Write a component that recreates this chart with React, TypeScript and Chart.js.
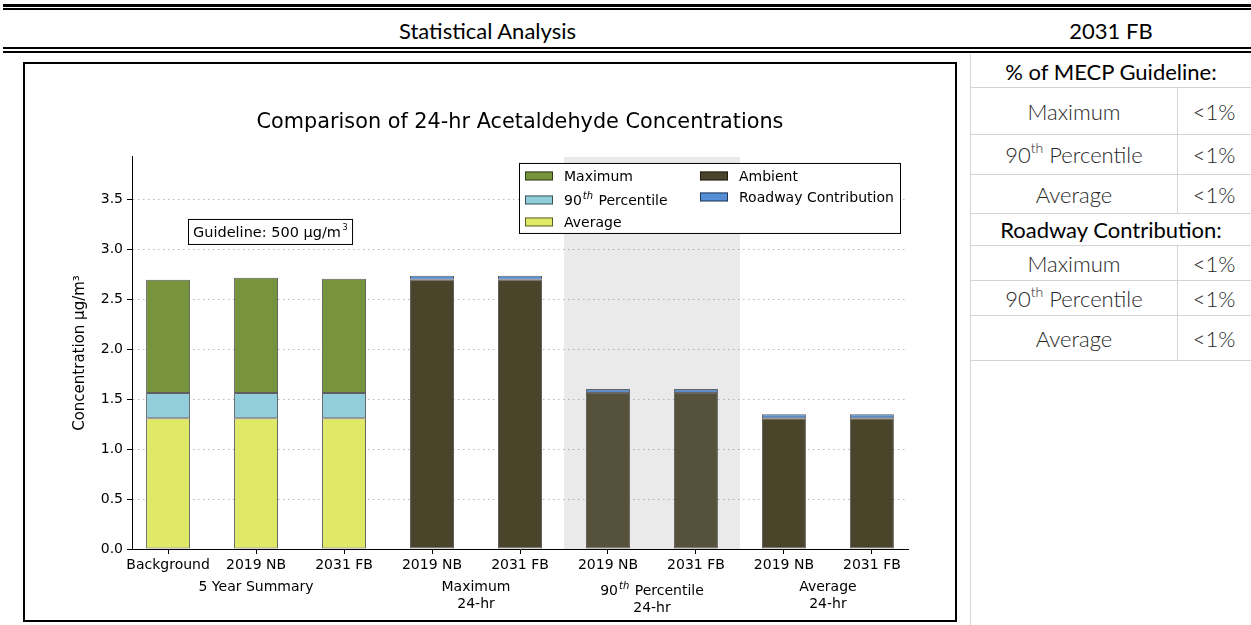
import React, { useEffect, useRef } from 'react';
import { Chart, registerables } from 'chart.js';

Chart.register(...registerables);

// ---------- data ----------
const categories = ['Background', '2019 NB', '2031 FB', '2019 NB', '2031 FB', '2019 NB', '2031 FB', '2019 NB', '2031 FB'];
const summaryIdx = [0, 1, 2];
const summaryAverage = [1.31, 1.31, 1.31];
const summary90th = [1.565, 1.565, 1.565];
const summaryMaximum = [2.70, 2.72, 2.71];
const scenarioIdx = [3, 4, 5, 6, 7, 8];
const ambient = [2.70, 2.70, 1.565, 1.565, 1.31, 1.31];
const roadway = [0.04, 0.04, 0.04, 0.04, 0.04, 0.04];
const groupNames = [['5 Year Summary'], ['Maximum', '24-hr'], ['90th Percentile', '24-hr'], ['Average', '24-hr']];
const groupMembers = [[0, 1, 2], [3, 4], [5, 6], [7, 8]];
const shadedGroup = 2;
const yMax = 3.93;
const yStep = 0.5;
const chartTitle = 'Comparison of 24-hr Acetaldehyde Concentrations';
const yTitle = 'Concentration µg/m³';
const guidelineBase = 'Guideline: 500 µg/m';
const guidelineSup = '3';

const guidelineRows = [['Maximum', '<1%'], ['90th Percentile', '<1%'], ['Average', '<1%']];
const roadwayRows = [['Maximum', '<1%'], ['90th Percentile', '<1%'], ['Average', '<1%']];

const COLORS = {
  max: '#77933C',
  p90: '#92CDDC',
  avg: '#E0E966',
  ambient: '#4A452A',
  roadway: '#558ED5',
};

const legendCol1 = [
  { label: 'Maximum', color: COLORS.max },
  { label: '90th Percentile', color: COLORS.p90 },
  { label: 'Average', color: COLORS.avg },
];
const legendCol2 = [
  { label: 'Ambient', color: COLORS.ambient },
  { label: 'Roadway Contribution', color: COLORS.roadway },
];

const FONT = '"DejaVu Sans", sans-serif';

function drawOrdinalText(ctx: CanvasRenderingContext2D, text: string, x: number, y: number, align: 'left' | 'center', size: number) {
  const m = text.match(/^(\d+)(th)(.*)$/);
  ctx.textBaseline = 'alphabetic';
  if (!m) {
    ctx.font = `${size}px ${FONT}`;
    ctx.textAlign = align;
    ctx.fillText(text, x, y);
    return;
  }
  const supSize = Math.round(size * 0.7);
  ctx.font = `${size}px ${FONT}`;
  const w1 = ctx.measureText(m[1]).width;
  const w3 = ctx.measureText(m[3]).width;
  ctx.font = `italic ${supSize}px ${FONT}`;
  const w2 = ctx.measureText(m[2]).width;
  const total = w1 + w2 + w3 + 2;
  let sx = align === 'center' ? x - total / 2 : x;
  ctx.textAlign = 'left';
  ctx.font = `${size}px ${FONT}`;
  ctx.fillText(m[1], sx, y);
  sx += w1 + 1;
  ctx.font = `italic ${supSize}px ${FONT}`;
  ctx.fillText(m[2], sx, y - size * 0.42);
  sx += w2 + 1;
  ctx.font = `${size}px ${FONT}`;
  ctx.fillText(m[3], sx, y);
}

const overlayPlugin = {
  id: 'overlayPlugin',
  afterDatasetsDraw(chart: any) {
    const { ctx, chartArea, scales } = chart;
    const x = scales.x;
    const g = groupMembers[shadedGroup];
    const x0 = x.getPixelForValue(g[0] - 0.5);
    const x1 = x.getPixelForValue(g[g.length - 1] + 0.5);
    ctx.save();
    ctx.fillStyle = 'rgba(138,138,138,0.18)';
    ctx.fillRect(x0, chartArea.top, x1 - x0, chartArea.bottom - chartArea.top);
    ctx.restore();
  },
  afterDraw(chart: any) {
    const { ctx, chartArea, scales } = chart;
    const x = scales.x;
    ctx.save();
    ctx.fillStyle = '#000';
    groupNames.forEach((lines, gi) => {
      const mem = groupMembers[gi];
      const cx = x.getPixelForValue(mem.reduce((a, b) => a + b, 0) / mem.length);
      const isOrd = /^\d+th/.test(lines[0]);
      lines.forEach((line, li) => {
        const yy = chartArea.bottom + (isOrd ? 46 : 42) + li * 17;
        drawOrdinalText(ctx, line, cx, yy, 'center', 14);
      });
    });

    // legend box
    const bw = 382, bh = 71;
    const bx = chartArea.right - 7 - bw;
    const by = chartArea.top + 6;
    ctx.fillStyle = '#fff';
    ctx.fillRect(bx, by, bw, bh);
    ctx.strokeStyle = '#000';
    ctx.lineWidth = 1;
    ctx.strokeRect(bx + 0.5, by + 0.5, bw - 1, bh - 1);
    const rows1 = [13, 37, 59];
    const rows2 = [13, 34];
    const drawItem = (item: { label: string; color: string }, px: number, tx: number, cy: number) => {
      ctx.fillStyle = item.color;
      ctx.fillRect(px, by + cy - 4.5, 28, 9);
      ctx.strokeStyle = 'rgba(0,0,0,0.6)';
      ctx.strokeRect(px + 0.5, by + cy - 4.5 + 0.5, 27, 8);
      ctx.fillStyle = '#000';
      drawOrdinalText(ctx, item.label, tx, by + cy + 5, 'left', 14);
    };
    legendCol1.forEach((it, i) => drawItem(it, bx + 6, bx + 45, rows1[i]));
    legendCol2.forEach((it, i) => drawItem(it, bx + 181, bx + 220, rows2[i]));

    // guideline box
    const gx = chartArea.left + 56;
    const gy = chartArea.top + 62;
    ctx.font = `14.5px ${FONT}`;
    const wBase = ctx.measureText(guidelineBase).width;
    ctx.font = `8px ${FONT}`;
    const wSup = ctx.measureText(guidelineSup).width;
    const gw = 5 + wBase + 2 + wSup + 5;
    ctx.fillStyle = '#fff';
    ctx.fillRect(gx, gy, gw, 26);
    ctx.strokeStyle = '#000';
    ctx.strokeRect(gx + 0.5, gy + 0.5, gw - 1, 25);
    ctx.fillStyle = '#000';
    ctx.textAlign = 'left';
    ctx.textBaseline = 'alphabetic';
    ctx.font = `14.5px ${FONT}`;
    ctx.fillText(guidelineBase, gx + 5, gy + 18);
    ctx.font = `8px ${FONT}`;
    ctx.fillText(guidelineSup, gx + 5 + wBase + 1.5, gy + 11);
    ctx.restore();
  },
};

function ChartBox() {
  const ref = useRef<HTMLCanvasElement>(null);
  useEffect(() => {
    if (!ref.current) return;
    Chart.defaults.font.family = FONT;
    const pts = (idx: number[], vals: number[]) => idx.map((i, k) => ({ x: i, y: vals[k] }));
    const common = { borderColor: 'rgba(40,40,40,0.75)', borderWidth: 1, borderSkipped: false as const, stack: 's' };
    const chart = new Chart(ref.current, {
      type: 'bar',
      data: {
        datasets: [
          { label: 'Average', data: pts(summaryIdx, summaryAverage), backgroundColor: COLORS.avg, ...common },
          { label: '90th Percentile', data: pts(summaryIdx, summary90th.map((v, i) => v - summaryAverage[i])), backgroundColor: COLORS.p90, ...common },
          { label: 'Maximum', data: pts(summaryIdx, summaryMaximum.map((v, i) => v - summary90th[i])), backgroundColor: COLORS.max, ...common },
          { label: 'Ambient', data: pts(scenarioIdx, ambient), backgroundColor: COLORS.ambient, ...common },
          { label: 'Roadway Contribution', data: pts(scenarioIdx, roadway), backgroundColor: COLORS.roadway, ...common },
        ] as any,
      },
      options: {
        responsive: false,
        animation: false,
        layout: { padding: { top: 0, left: 0, right: 47, bottom: 0 } },
        datasets: { bar: { categoryPercentage: 1, barPercentage: 0.5 } },
        plugins: {
          legend: { display: false },
          tooltip: { enabled: false },
          title: {
            display: true,
            fullSize: false,
            text: chartTitle,
            color: '#000',
            font: { family: FONT, size: 20.8, weight: 'normal' },
            padding: { top: 46.5, bottom: 21.5 },
          },
        },
        scales: {
          x: {
            type: 'linear',
            stacked: true,
            offset: false,
            min: -0.41,
            max: categories.length - 1 + 0.41,
            afterBuildTicks: (scale: any) => {
              scale.ticks = categories.map((_, i) => ({ value: i }));
            },
            afterFit: (scale: any) => {
              scale.height = 71;
            },
            ticks: {
              autoSkip: false,
              maxRotation: 0,
              color: '#000',
              font: { family: FONT, size: 14 },
              padding: 3,
              callback: (v: any) => categories[v] ?? '',
            },
            grid: { offset: false, drawOnChartArea: false, drawTicks: true, tickLength: 5, tickColor: '#000' },
            border: { display: true, color: '#000', width: 1 },
          },
          y: {
            stacked: true,
            min: 0,
            max: yMax,
            z: 1,
            afterFit: (scale: any) => {
              scale.width = 107;
            },
            ticks: {
              stepSize: yStep,
              includeBounds: false,
              color: '#000',
              font: { family: FONT, size: 14 },
              padding: 4,
              callback: (v: any) => Number(v).toFixed(1),
            },
            grid: {
              color: 'rgba(0,0,0,0.28)',
              lineWidth: 1,
              drawTicks: true,
              tickLength: 5,
              tickColor: '#000',
              tickBorderDash: [],
            } as any,
            border: { display: true, color: '#000', width: 1, dash: [1.5, 3.5] },
            title: {
              display: true,
              text: yTitle,
              color: '#000',
              font: { family: FONT, size: 15 },
              padding: { top: 46, bottom: 0 },
            },
          },
        },
      } as any,
      plugins: [overlayPlugin],
    });
    return () => chart.destroy();
  }, []);
  return <canvas ref={ref} width={930} height={556} style={{ display: 'block' }} />;
}

const GRID = '#d4d4d4';
const TFONT = 'Lato, "Open Sans", sans-serif';

function Cell({ top, height, left, width, children, color = '#262626', weight = 300 }: any) {
  return (
    <div
      style={{
        position: 'absolute',
        top,
        left,
        width,
        height,
        display: 'flex',
        alignItems: 'center',
        justifyContent: 'center',
        fontSize: 22,
        color,
        fontFamily: TFONT,
        fontWeight: weight,
        paddingTop: 1,
        boxSizing: 'border-box',
        whiteSpace: 'nowrap',
      }}
    >
      {children}
    </div>
  );
}

function ordinal(text: string) {
  const m = text.match(/^(\d+)(th)(.*)$/);
  if (!m) return text;
  return (
    <span>
      {m[1]}
      <sup style={{ fontSize: 14, verticalAlign: 'top', position: 'relative', top: -2 }}>{m[2]}</sup>
      {m[3]}
    </span>
  );
}

export default function App() {
  const tLeft = 971;
  const tRight = 1251;
  const colDiv = 1177;
  const hLines = [87, 134, 174, 213, 245, 280, 315, 360];
  const gRows = [[87, 134], [134, 174], [174, 213]];
  const rRows = [[245, 280], [280, 315], [315, 360]];
  const headStyle: any = { position: 'absolute', top: 12, height: 36, display: 'flex', alignItems: 'center', justifyContent: 'center', fontSize: 22, fontFamily: TFONT, color: '#000' };
  return (
    <div style={{ position: 'fixed', left: 0, top: 0, width: 1251, height: 625, background: '#fff', overflow: 'hidden' }}>
      <div style={{ position: 'absolute', left: 3, right: 0, top: 4, height: 3, background: '#000' }} />
      <div style={{ position: 'absolute', left: 3, right: 0, top: 8, height: 2, background: '#000' }} />
      <div style={{ position: 'absolute', left: 3, right: 0, top: 47, height: 2, background: '#000' }} />
      <div style={{ position: 'absolute', left: 3, right: 0, top: 51, height: 2, background: '#000' }} />
      <div style={{ ...headStyle, left: 0, width: 975 }}>Statistical Analysis</div>
      <div style={{ ...headStyle, left: 971, width: 280 }}>2031 FB</div>

      <div style={{ position: 'absolute', left: 23, top: 62, width: 934, height: 560, border: '2px solid #000', boxSizing: 'border-box' }}>
        <ChartBox />
      </div>

      <div style={{ position: 'absolute', left: 970, top: 54, width: 1, height: 571, background: GRID }} />
      {hLines.map((y) => (
        <div key={y} style={{ position: 'absolute', left: tLeft, width: tRight - tLeft, top: y, height: 1, background: GRID }} />
      ))}
      <div style={{ position: 'absolute', left: colDiv, top: 87, width: 1, height: 213 - 87, background: GRID }} />
      <div style={{ position: 'absolute', left: colDiv, top: 245, width: 1, height: 360 - 245, background: GRID }} />

      <Cell top={54} height={33} left={tLeft} width={tRight - tLeft} color="#000" weight={400}>% of MECP Guideline:</Cell>
      {guidelineRows.map((r, i) => (
        <React.Fragment key={'g' + i}>
          <Cell top={gRows[i][0]} height={gRows[i][1] - gRows[i][0]} left={tLeft} width={colDiv - tLeft}>{ordinal(r[0])}</Cell>
          <Cell top={gRows[i][0]} height={gRows[i][1] - gRows[i][0]} left={colDiv} width={tRight - colDiv}>{r[1]}</Cell>
        </React.Fragment>
      ))}
      <Cell top={213} height={32} left={tLeft} width={tRight - tLeft} color="#000" weight={400}>Roadway Contribution:</Cell>
      {roadwayRows.map((r, i) => (
        <React.Fragment key={'r' + i}>
          <Cell top={rRows[i][0]} height={rRows[i][1] - rRows[i][0]} left={tLeft} width={colDiv - tLeft}>{ordinal(r[0])}</Cell>
          <Cell top={rRows[i][0]} height={rRows[i][1] - rRows[i][0]} left={colDiv} width={tRight - colDiv}>{r[1]}</Cell>
        </React.Fragment>
      ))}
    </div>
  );
}
